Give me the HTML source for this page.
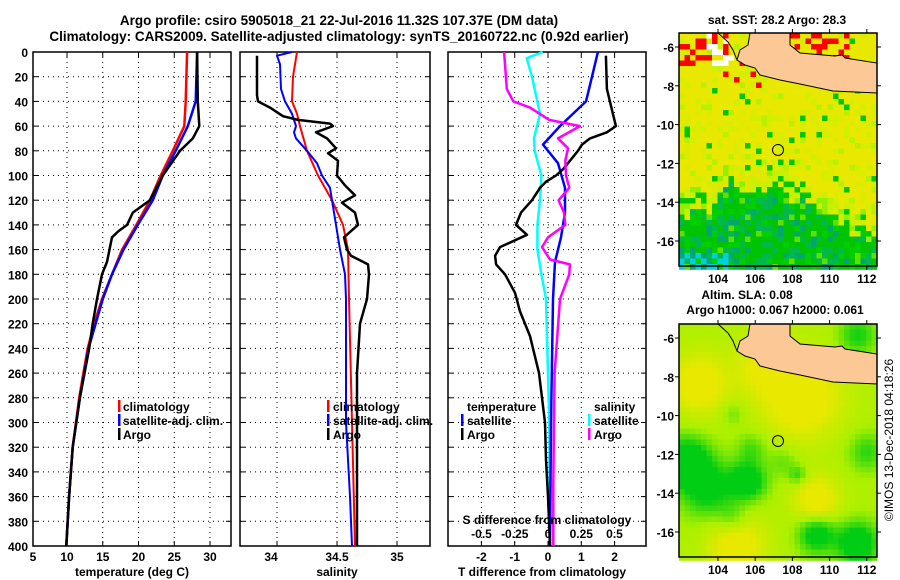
<!DOCTYPE html>
<html><head><meta charset="utf-8"><style>
html,body{margin:0;padding:0;background:#fff;}
svg{display:block;font-family:"Liberation Sans",sans-serif;font-weight:bold;}
</style></head><body>
<svg id="fig" width="900" height="580" viewBox="0 0 900 580" xmlns="http://www.w3.org/2000/svg">
<rect width="900" height="580" fill="#fff"/>
<text x="339" y="25" font-size="13.5" text-anchor="middle">Argo profile: csiro 5905018_21 22-Jul-2016 11.32S 107.37E (DM data)</text>
<text x="339" y="41" font-size="13.5" text-anchor="middle">Climatology: CARS2009. Satellite-adjusted climatology: synTS_20160722.nc (0.92d earlier)</text>
<g id="plots"></g>
<g id="maps"></g>
<text transform="translate(893,440) rotate(-90)" font-size="12" font-weight="normal" text-anchor="middle">©IMOS 13-Dec-2018 04:18:26</text>
</svg>
<script>
// ---- data ----
const depthTicks = [0,20,40,60,80,100,120,140,160,180,200,220,240,260,280,300,320,340,360,380,400];
const tTicks = [5,10,15,20,25,30];
const sTicks = [34,34.5,35];
const dtTicks = [-2,-1,0,1,2];
const dsTickLabels = ["-0.5","-0.25","0","0.25","0.5"];
const dsTicks = [-0.5,-0.25,0,0.25,0.5];

const tClimDepth = [0,40,60,80,100,120,140,160,180,200,220,240,260,280,320,360,400];
const tClim = [26.8,26.6,26.4,24.8,23.1,21.6,19.7,17.7,16.3,14.9,13.8,12.9,12.3,11.7,10.8,10.3,9.9];
const tSatDepth = [0,40,60,80,100,120,140,160,180,200,240,280,320,360,400];
const tSat = [28.2,28.0,26.9,25.2,23.4,22,19.9,17.9,16.3,15.0,13.0,11.8,10.8,10.3,9.9];
const tArgoDepth = [0,40,60,70,80,100,120,130,140,145,150,170,180,200,220,240,280,320,360,400];
const tArgo = [28.2,28.3,28.5,27.6,25.8,23.4,21.6,19.2,18.4,17.2,16.3,15.6,14.9,14.2,13.6,13.1,11.8,10.8,10.3,9.9];

const sClimDepth = [0,20,40,50,60,80,100,120,140,160,200,300,400];
const sClim = [34.167,34.133,34.125,34.167,34.192,34.25,34.342,34.458,34.55,34.592,34.6,34.625,34.65];
const sSatDepth = [0,3,10,30,40,50,60,65,70,80,90,100,110,120,140,160,180,200,300,360,400];
const sSat = [34.125,34.0,34.025,34.033,34.067,34.125,34.158,34.142,34.158,34.25,34.333,34.375,34.442,34.458,34.492,34.525,34.567,34.575,34.575,34.608,34.625];
const sArgoDepth = [3,35,40,45,52,55,58,60,65,70,78,82,88,100,108,116,122,130,140,150,160,165,172,180,200,220,260,300,400];
const sArgo = [33.833,33.833,33.842,33.942,34.05,34.175,34.442,34.467,34.325,34.417,34.492,34.425,34.508,34.5,34.567,34.65,34.542,34.65,34.675,34.558,34.583,34.617,34.758,34.767,34.75,34.692,34.667,34.667,34.667];

const dtSatDepth = [0,20,40,60,75,90,110,130,150,170,200,300,400];
const dtSat = [1.5,1.32,1.14,0.36,-0.15,0.3,0.51,0.51,0.39,0.21,0.15,0.09,0.06];
const dtArgoDepth = [3,30,50,60,65,70,75,80,95,100,105,110,120,130,140,148,158,165,172,180,195,210,230,260,300,330,360,400];
const dtArgo = [1.74,1.77,1.95,2.04,1.77,1.26,1.02,0.9,0.45,0.24,-0.06,-0.24,-0.48,-0.81,-0.96,-0.63,-1.44,-1.59,-1.56,-1.29,-0.99,-0.84,-0.54,-0.27,-0.09,-0.06,0,0.06];
const dsArgoDepth = [0,30,40,45,55,60,70,78,88,100,110,120,130,140,150,158,168,172,180,200,260,300,350,400];
const dsArgo = [-0.33,-0.31,-0.26,-0.135,0.01,0.24,0.075,0.15,0.13,0.135,0.16,0.08,0.12,0.13,0,-0.045,0.015,0.165,0.16,0.09,0.05,0.045,0.04,0.04];
const dsSatDepth = [0,5,20,50,70,80,100,120,140,160,180,200,300,400];
const dsSat = [-0.04,-0.16,-0.12,-0.06,-0.105,-0.1,-0.05,-0.06,-0.08,-0.08,-0.05,-0.015,0.01,0.015];

const NS="http://www.w3.org/2000/svg";
const plots=document.getElementById('plots');
function mk(tag,attrs,parent,text){const e=document.createElementNS(NS,tag);for(const k in attrs)e.setAttribute(k,attrs[k]);if(text!==undefined)e.textContent=text;(parent||plots).appendChild(e);return e;}
const Y0=52,Y1=546;
const yD=d=>Y0+d*(Y1-Y0)/400;
function lin(v0,p0,v1,p1){return v=>p0+(v-v0)*(p1-p0)/(v1-v0);}
const xT=lin(10,67,30,210);
const xS=lin(34,277,35,397);
const xDT=lin(0,548,1,581.3);
const xDS=lin(0,548,1,681);

function panel(name,x0,x1,gridVals,xf){
  const g=mk('g',{});
  
  
  depthTicks.forEach(d=>{if(d>0&&d<400){const l=mk('line',{x1:x0,x2:x1,y1:yD(d),y2:yD(d),stroke:'#000','stroke-width':1,'stroke-dasharray':'1 4'},g);
    mk('line',{x1:x0,x2:x0+5,y1:yD(d),y2:yD(d),stroke:'#000'},g);mk('line',{x1:x1-5,x2:x1,y1:yD(d),y2:yD(d),stroke:'#000'},g);}});
  gridVals.forEach(v=>{const x=xf(v);if(x>x0+1&&x<x1-1){const l=mk('line',{x1:x,x2:x,y1:Y0,y2:Y1,stroke:'#000','stroke-dasharray':'1 4'},g);
    mk('line',{x1:x,x2:x,y1:Y1-5,y2:Y1,stroke:'#000'},g);mk('line',{x1:x,x2:x,y1:Y0,y2:Y0+5,stroke:'#000'},g);}});
  const r=mk('rect',{x:x0,y:Y0,width:x1-x0,height:Y1-Y0,fill:'none',stroke:'#000','stroke-width':1.5},g);
  
  return g;
}
function series(g,name,vals,depths,xf,color,w){
  const pts=vals.map((v,i)=>xf(v).toFixed(1)+','+yD(depths[i]).toFixed(1)).join(' ');
  const p=mk('polyline',{points:pts,fill:'none',stroke:color,'stroke-width':w,'stroke-linejoin':'round'},g);
  
  
}
function txt(g,name,x,y,s,size,anchor){const t=mk('text',{x:x,y:y,'font-size':size||12,'text-anchor':anchor||'start'},g,s);return t;}
function legendBar(g,x,y,color){mk('rect',{x:x,y:y-10,width:2.5,height:12,fill:color},g);}

// Panel 1
const g1=panel('temperature-panel',33,231,tTicks,xT);
series(g1,'temperature-climatology-line',tClim,tClimDepth,xT,'#f00',2.5);
series(g1,'temperature-satellite-line',tSat,tSatDepth,xT,'#00f',2.5);
series(g1,'temperature-argo-line',tArgo,tArgoDepth,xT,'#000',2.5);
depthTicks.forEach(d=>txt(g1,'depth-tick-label',28,yD(d)+5,String(d),12,'end'));
tTicks.forEach(v=>txt(g1,'temperature-tick-label',v===5?33:xT(v),561,String(v),12,'middle'));
txt(g1,'x-axis-title-temperature',132,576,'temperature (deg C)',12,'middle');
legendBar(g1,118,410,'#f00');txt(g1,'legend-climatology',123,411,'climatology');
legendBar(g1,118,424,'#00f');txt(g1,'legend-satellite-adj',123,425,'satellite-adj. clim.');
legendBar(g1,118,438,'#000');txt(g1,'legend-argo',123,439,'Argo');

// Panel 2
const g2=panel('salinity-panel',240,430,sTicks,xS);
series(g2,'salinity-climatology-line',sClim,sClimDepth,xS,'#f00',2);
series(g2,'salinity-satellite-line',sSat,sSatDepth,xS,'#00f',2);
series(g2,'salinity-argo-line',sArgo,sArgoDepth,xS,'#000',2.5);
sTicks.forEach(v=>txt(g2,'salinity-tick-label',xS(v)-(v===34?6:0),561,String(v),12,'middle'));
txt(g2,'x-axis-title-salinity',337,576,'salinity',12,'middle');
legendBar(g2,327,410,'#f00');txt(g2,'legend-climatology',333,411,'climatology');
legendBar(g2,327,424,'#00f');txt(g2,'legend-satellite-adj',333,425,'satellite-adj. clim.');
legendBar(g2,327,438,'#000');txt(g2,'legend-argo',333,439,'Argo');

// Panel 3
const g3=panel('difference-panel',448,646,dtTicks,xDT);
series(g3,'salinity-diff-satellite-line',dsSat,dsSatDepth,xDS,'#0ff',2.5);
series(g3,'temperature-diff-satellite-line',dtSat,dtSatDepth,xDT,'#00f',2.5);
series(g3,'temperature-diff-argo-line',dtArgo,dtArgoDepth,xDT,'#000',2.5);
series(g3,'salinity-diff-argo-line',dsArgo,dsArgoDepth,xDS,'#f0f',2.5);
txt(g3,'legend-temperature-heading',467,411,'temperature');
legendBar(g3,461,424,'#00f');txt(g3,'legend-temp-satellite',467,425,'satellite');
legendBar(g3,461,438,'#000');txt(g3,'legend-temp-argo',467,439,'Argo');
txt(g3,'legend-salinity-heading',594,411,'salinity');
legendBar(g3,588,424,'#0ff');txt(g3,'legend-sal-satellite',594,425,'satellite');
legendBar(g3,588,438,'#f0f');txt(g3,'legend-sal-argo',594,439,'Argo');
txt(g3,'s-difference-axis-title',547,524,'S difference from climatology',12,'middle');
dsTicks.forEach((v,i)=>txt(g3,'s-diff-tick-label',xDS(v),538,dsTickLabels[i],12,'middle'));
dtTicks.forEach(v=>txt(g3,'t-diff-tick-label',xDT(v),561,String(v),12,'middle'));
txt(g3,'x-axis-title-t-difference',542,576,'T difference from climatology',12,'middle');

// ---- Maps ----
const maps=document.getElementById('maps');
function hash(i,j,s){let h=(i*374761393+j*668265263+s*982451653)|0;h=(h^(h>>>13))*1274126177|0;return ((h^(h>>>16))>>>0)/4294967296;}
const slaBlobs=[[102.3,-12.5,1.3,1.0],[103.5,-14,1.5,0.7],[105.6,-13.5,1.0,0.9],[105.8,-11.8,0.8,0.4],[109.3,-16.2,1.0,0.9],[111.5,-16.7,1.1,1.0],[107.5,-12.5,0.8,0.3],[108.3,-13.2,0.5,0.5],[112,-12,1,0.5],[104.8,-10,0.6,0.3],[104.8,-15.5,0.8,0.4],[111.5,-6,1,0.6],[103,-8.5,1.5,-0.8],[108.5,-9.2,2,-0.9],[109.3,-14.5,1.2,-0.8],[105,-16.8,1.5,-0.8],[106.5,-7.5,1.5,-0.6]];
function mix(a,b,t){return 'rgb('+a.map((v,k)=>Math.round(v+(b[k]-v)*t)).join(',')+')';}
function drawMap(name,top,kind){
  const L=679,R=877,T=top,B=top+233;
  const g=document.createElementNS(NS,'g');maps.appendChild(g);
  const cs=5.5;
  for(let i=0;i*cs<R-L;i++)for(let j=0;j*cs<B-T;j++){
    const x=L+i*cs,y=T+j*cs;const lat=-5.4-(j*cs+2.7)/19.4;const lon=101.9+(i*cs+2.7)/18.6;
    let c;
    if(kind===1){
      const r=hash(i,j,1);
      let bound = lon<104?-13.6:(lon<107?-12.4:-12.4-(lon-107)*0.5);
      bound += (hash(i,0,3)-0.5)*0.8;
      if(lat>bound){
        const southish = lat<-9.5;
        c=r<0.62?'#e8e800':(r<0.8?(southish?'#dcec00':'#e8e800'):(r<0.9?'#d0f000':(r<0.96?'#b8f000':'#00c800')));
        if(lat>-8.3&&r>0.95&&lon<111)c='#f00';
        if(lat>-7&&hash(i,j,5)<0.35&&(lon<104.5||(lon>108&&lon<111)))c='#f00';
        if(lat>-7.2&&lon>103.5&&lon<105&&hash(i,j,7)<0.3)c='#fff';
      } else {
        const dd=bound-lat;
        if(dd<1.0) c=r<0.35?'#c8f000':(r<0.6?'#e0e800':(r<0.85?'#00c800':'#90f000'));
        else c=r<0.45?'#00c400':(r<0.68?'#00b84c':(r<0.82?'#00d000':(r<0.92?'#00a870':'#60e000')));
        if(lat<-16.6&&lon<104.5&&r<0.6)c='#00d0e0';
      }
    } else {
      let f=0.25;
      slaBlobs.forEach(b=>{const dx=(lon-b[0])/b[2],dy2=(lat-b[1])/b[2];f+=b[3]*Math.exp(-(dx*dx+dy2*dy2));});
      const Yel=[232,232,0],Lim=[170,240,0],Grn=[0,205,20];
      if(f<0.3)c=mix(Yel,Lim,Math.max(0,(f+0.3)/0.6));else c=mix(Lim,Grn,Math.min(1,(f-0.3)/0.6));
    }
    mk('rect',{x:x,y:y,width:cs+0.3,height:cs+0.3,fill:c},g);
  }
  const dy=top-33;
  const java=[[750,33],[790,33],[790,45],[800,53],[835,56],[842,55],[845,58],[877,63],[877,93],[833,91],[800,84],[780,80],[760,75],[755,68],[745,65],[737,60],[740,50],[748,45]];
  const jp=mk('polygon',{points:java.map(p=>p[0]+','+(p[1]+dy)).join(' '),fill:'#fcc896',stroke:'#000','stroke-width':1},g);
  
  const sp=mk('polyline',{points:[[718,33],[728,42],[733,50],[737,60]].map(p=>p[0]+','+(p[1]+dy)).join(' '),fill:'none',stroke:'#000','stroke-width':1},g);
  
  const c=mk('circle',{cx:778,cy:150+dy,r:5.5,fill:'none',stroke:'#000','stroke-width':1},g);
  
  mk('rect',{x:L,y:T,width:R-L,height:B-T,fill:'none',stroke:'#000','stroke-width':1.5},g);
  [-6,-8,-10,-12,-14,-16].forEach(v=>{const y=top+14+(-6-v)*19.4;mk('line',{x1:L-4,x2:L,y1:y,y2:y,stroke:'#000'},g);mk('line',{x1:R,x2:R+4,y1:y,y2:y,stroke:'#000'},g);
    const t=mk('text',{x:L-5,y:y+5,'font-size':12,'text-anchor':'end'},g,String(v));});
  [104,106,108,110,112].forEach(v=>{const x=718+(v-104)*18.6;mk('line',{x1:x,x2:x,y1:B,y2:B+4,stroke:'#000'},g);mk('line',{x1:x,x2:x,y1:T-4,y2:T,stroke:'#000'},g);
    const t=mk('text',{x:x,y:B+17,'font-size':12,'text-anchor':'middle'},g,String(v));});
}
drawMap('sst-map',33,1);
drawMap('sla-map',324,2);
function mt(name,x,y,s){const t=mk('text',{x:x,y:y,'font-size':12,'text-anchor':'middle'},maps,s);}
mt('sst-map-title',777,24,'sat. SST: 28.2 Argo: 28.3');
mt('sla-map-title-1',747,299,'Altim. SLA: 0.08');
mt('sla-map-title-2',775,314,'Argo h1000: 0.067 h2000: 0.061');
</script>
</body></html>
